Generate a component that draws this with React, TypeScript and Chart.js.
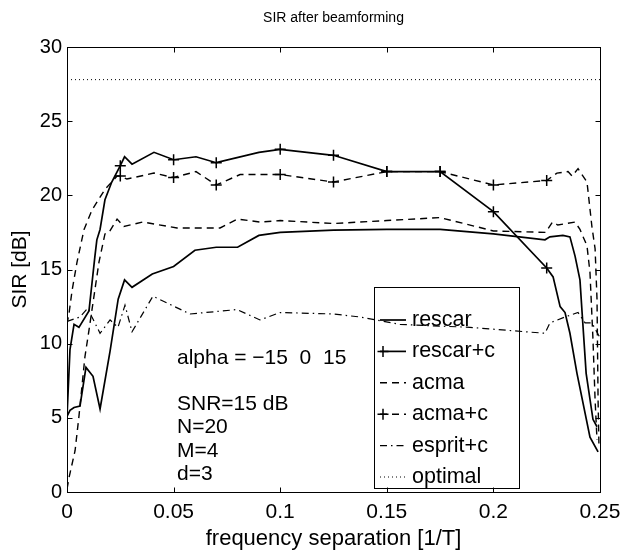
import React, { useEffect, useRef } from 'react';
import { Chart, registerables } from 'chart.js';

Chart.register(...registerables);

// ---------- data ----------
const rescarX = [0, 0.0014, 0.0033, 0.0061, 0.0089, 0.0122, 0.0155, 0.0202, 0.024, 0.027, 0.0305, 0.04, 0.05, 0.06, 0.07, 0.08, 0.09, 0.1, 0.125, 0.15, 0.175, 0.2, 0.2242, 0.2265, 0.2326, 0.2359, 0.2383, 0.2406, 0.2416, 0.2435, 0.2467, 0.2486];
const rescarY = [5.1, 5.5, 5.7, 5.8, 8.4, 7.8, 5.6, 9.5, 13.0, 14.3, 13.8, 14.7, 15.2, 16.3, 16.5, 16.5, 17.3, 17.5, 17.65, 17.7, 17.7, 17.4, 17.0, 17.2, 17.3, 17.2, 15.9, 14.3, 12.1, 8.0, 4.9, 4.4];

const rescarCX = [0, 0.0014, 0.0033, 0.0056, 0.0103, 0.0131, 0.014, 0.0155, 0.0178, 0.021, 0.025, 0.027, 0.0305, 0.0408, 0.05, 0.0605, 0.07, 0.09, 0.1, 0.125, 0.15, 0.175, 0.2, 0.225, 0.228, 0.2313, 0.2336, 0.2359, 0.2392, 0.2453, 0.2491];
const rescarCY = [5.1, 9.6, 11.3, 11.1, 12.2, 15.9, 17.0, 17.7, 19.7, 20.9, 22.0, 22.6, 22.1, 22.9, 22.4, 22.6, 22.2, 22.9, 23.1, 22.7, 21.6, 21.6, 18.9, 15.1, 14.5, 12.5, 12.1, 10.7, 8.0, 3.7, 2.7];

const acmaX = [0, 0.0005, 0.001, 0.0038, 0.0056, 0.0084, 0.0103, 0.015, 0.0178, 0.0197, 0.0235, 0.0267, 0.0356, 0.0516, 0.0718, 0.08, 0.0905, 0.1, 0.125, 0.15, 0.175, 0.2, 0.2245, 0.2277, 0.2302, 0.2383, 0.2406, 0.2439, 0.2453, 0.2467, 0.2477, 0.2486];
const acmaY = [0.2, 0.6, 1.0, 2.8, 5.1, 9.1, 10.9, 15.5, 17.4, 17.5, 18.4, 17.9, 18.2, 17.8, 17.8, 18.4, 18.2, 18.3, 18.1, 18.3, 18.5, 17.6, 17.5, 18.2, 18.0, 18.2, 17.7, 16.6, 14.8, 10.3, 6.2, 3.5];

const acmaCX = [0, 0.001, 0.0024, 0.0047, 0.008, 0.0117, 0.0178, 0.0235, 0.025, 0.0281, 0.0408, 0.05, 0.0605, 0.07, 0.0812, 0.1, 0.125, 0.15, 0.175, 0.2, 0.225, 0.2298, 0.235, 0.2369, 0.2397, 0.2406, 0.2439, 0.2462, 0.2477, 0.2486, 0.2491, 0.2495];
const acmaCY = [11.3, 12.1, 13.6, 15.5, 17.7, 19.0, 20.4, 21.3, 21.3, 21.1, 21.5, 21.2, 21.6, 20.7, 21.4, 21.4, 20.9, 21.6, 21.6, 20.7, 21.0, 21.5, 21.6, 21.3, 21.8, 21.6, 20.9, 17.9, 16.4, 13.0, 6.2, 3.2];

const espritCX = [0, 0.0061, 0.0098, 0.0117, 0.0155, 0.0202, 0.0239, 0.0272, 0.0305, 0.0403, 0.0577, 0.0797, 0.0905, 0.1, 0.125, 0.1374, 0.1562, 0.189, 0.2242, 0.2265, 0.2336, 0.2397, 0.243, 0.2462, 0.25];
const espritCY = [11.5, 11.8, 12.4, 11.8, 10.7, 11.6, 11.1, 12.6, 10.8, 13.2, 12.0, 12.3, 11.6, 12.1, 12.0, 11.8, 11.3, 11.1, 10.7, 11.4, 11.8, 12.1, 11.4, 11.4, 10.4];

const optimalX = [0, 0.25];
const optimalY = [27.8, 27.8];

const markerX = [0.025, 0.05, 0.07, 0.1, 0.125, 0.15, 0.175, 0.2, 0.225];

const seriesLabels = ['rescar', 'rescar+c', 'acma', 'acma+c', 'esprit+c', 'optimal'];
const titleText = 'SIR after beamforming';
const annotationLines = ['alpha = \u221215  0  15', '', 'SNR=15 dB', 'N=20', 'M=4', 'd=3'];

const xTickValues = [0, 0.05, 0.1, 0.15, 0.2, 0.25];
const yTickValues = [0, 5, 10, 15, 20, 25, 30];

const W = 623;
const H = 559;
const FONT = '"Liberation Sans", Arial, Helvetica, sans-serif';

const pts = (xs: number[], ys: number[]) => xs.map((x, i) => ({ x, y: ys[i] }));
const isMarker = (x: number) => markerX.some((m) => Math.abs(m - x) < 1e-6);

const DASH = [7, 5];
const DASHDOT = [7, 4, 1.5, 4];
const DOT = [1, 3];

function makeSet(label: string, xs: number[], ys: number[], dash: number[], width: number, markers: boolean) {
  return {
    label,
    data: pts(xs, ys),
    borderColor: '#000',
    backgroundColor: '#000',
    borderWidth: width,
    borderDash: dash,
    tension: 0,
    fill: false,
    pointStyle: 'cross',
    pointBorderColor: '#000',
    pointBorderWidth: 1.5,
    pointRadius: (c: any) => (markers && c.raw && isMarker(c.raw.x) ? 5.5 : 0),
    pointHoverRadius: 0,
    hasMarker: markers,
  } as any;
}

const framePlugin = {
  id: 'matlabFrame',
  afterDatasetsDraw(chart: any) {
    const { ctx, chartArea: a, scales } = chart;
    const xs = scales.x;
    const ys = scales.y;
    ctx.save();
    ctx.strokeStyle = '#000';
    ctx.lineWidth = 1;
    ctx.setLineDash([]);
    const L = Math.round(a.left) + 0.5;
    const R = Math.round(a.right) + 0.5;
    const T = Math.round(a.top) + 0.5;
    const B = Math.round(a.bottom) + 0.5;
    ctx.strokeRect(L, T, R - L, B - T);
    const tl = 5;
    ctx.beginPath();
    xTickValues.forEach((v) => {
      const px = Math.round(xs.getPixelForValue(v)) + 0.5;
      ctx.moveTo(px, B); ctx.lineTo(px, B - tl);
      ctx.moveTo(px, T); ctx.lineTo(px, T + tl);
    });
    yTickValues.forEach((v) => {
      const py = Math.round(ys.getPixelForValue(v)) + 0.5;
      ctx.moveTo(L, py); ctx.lineTo(L + tl, py);
      ctx.moveTo(R, py); ctx.lineTo(R - tl, py);
    });
    ctx.stroke();

    // title, centred over the plot box
    ctx.fillStyle = '#000';
    ctx.font = `14px ${FONT}`;
    ctx.textAlign = 'center';
    ctx.textBaseline = 'middle';
    ctx.fillText(titleText, (a.left + a.right) / 2, 18);

    // annotation text
    ctx.font = `21px ${FONT}`;
    ctx.textAlign = 'left';
    ctx.textBaseline = 'middle';
    const ax = a.left + 110;
    const ay0 = a.top + 311;
    const ayStep = 23.2;
    annotationLines.forEach((t, i) => {
      if (t) ctx.fillText(t, ax, ay0 + i * ayStep);
    });

    // legend
    const lx0 = 374.5, ly0 = 287.5, lx1 = 519.5, ly1 = 488.5;
    ctx.lineWidth = 1;
    ctx.strokeRect(lx0, ly0, lx1 - lx0, ly1 - ly0);
    const rowY0 = 320;
    const rowStep = 31.4;
    chart.data.datasets.forEach((ds: any, i: number) => {
      const cy = rowY0 + i * rowStep;
      ctx.save();
      ctx.strokeStyle = '#000';
      ctx.lineWidth = ds.borderWidth;
      ctx.setLineDash(ds.borderDash || []);
      ctx.beginPath();
      ctx.moveTo(380, cy);
      ctx.lineTo(406, cy);
      ctx.stroke();
      if (ds.hasMarker) {
        ctx.setLineDash([]);
        ctx.lineWidth = 1.5;
        ctx.beginPath();
        ctx.moveTo(383 - 5.5, cy); ctx.lineTo(383 + 5.5, cy);
        ctx.moveTo(383, cy - 5.5); ctx.lineTo(383, cy + 5.5);
        ctx.stroke();
      }
      ctx.restore();
      ctx.fillStyle = '#000';
      ctx.font = `21.5px ${FONT}`;
      ctx.textAlign = 'left';
      ctx.textBaseline = 'middle';
      ctx.fillText(ds.label, 412, cy);
    });
    ctx.restore();
  },
};

export default function App() {
  const ref = useRef<HTMLCanvasElement>(null);
  useEffect(() => {
    if (!ref.current) return;
    const chart = new Chart(ref.current, {
      type: 'line',
      data: {
        datasets: [
          makeSet(seriesLabels[0], rescarX, rescarY, [], 1.7, false),
          makeSet(seriesLabels[1], rescarCX, rescarCY, [], 1.7, true),
          makeSet(seriesLabels[2], acmaX, acmaY, DASH, 1.4, false),
          makeSet(seriesLabels[3], acmaCX, acmaCY, DASH, 1.4, true),
          makeSet(seriesLabels[4], espritCX, espritCY, DASHDOT, 1.2, false),
          makeSet(seriesLabels[5], optimalX, optimalY, DOT, 1, false),
        ],
      },
      options: {
        responsive: false,
        animation: false,
        devicePixelRatio: 1,
        layout: { padding: { left: 0, right: 23, top: 47, bottom: 0 } },
        plugins: {
          legend: { display: false },
          tooltip: { enabled: false },
          title: { display: false, text: titleText },
        },
        scales: {
          x: {
            type: 'linear',
            min: 0,
            max: 0.25,
            afterFit: (s: any) => { s.height = 67; s.paddingLeft = 0; s.paddingRight = 0; },
            afterBuildTicks: (s: any) => { s.ticks = xTickValues.map((v) => ({ value: v })); },
            grid: { display: false, drawTicks: false },
            border: { display: false },
            ticks: {
              color: '#000',
              padding: 8,
              maxRotation: 0,
              autoSkip: false,
              font: { family: FONT, size: 21 },
              callback: (v: any) => String(Math.round(Number(v) * 100) / 100),
            },
            title: {
              display: true,
              text: 'frequency separation [1/T]',
              color: '#000',
              font: { family: FONT, size: 22 },
              padding: { top: 0, bottom: 7 },
            },
          },
          y: {
            type: 'linear',
            min: 0,
            max: 30,
            afterFit: (s: any) => { s.width = 67; s.paddingTop = 0; s.paddingBottom = 0; },
            afterBuildTicks: (s: any) => { s.ticks = yTickValues.map((v) => ({ value: v })); },
            grid: { display: false, drawTicks: false },
            border: { display: false },
            ticks: {
              color: '#000',
              padding: 5,
              autoSkip: false,
              font: { family: FONT, size: 20 },
              callback: (v: any) => String(v),
            },
            title: {
              display: true,
              text: 'SIR [dB]',
              color: '#000',
              font: { family: FONT, size: 21 },
              padding: { top: 8, bottom: 0 },
            },
          },
        },
      } as any,
      plugins: [framePlugin],
    });
    return () => chart.destroy();
  }, []);
  return (
    <div style={{ position: 'absolute', left: 0, top: 0, width: W, height: H, background: '#fff' }}>
      <canvas ref={ref} width={W} height={H} style={{ width: W, height: H, display: 'block' }} />
    </div>
  );
}
